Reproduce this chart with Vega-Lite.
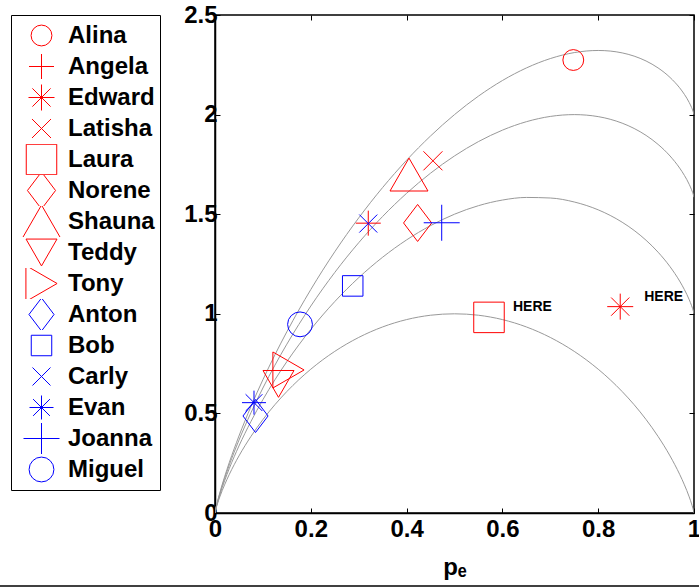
{
  "$schema": "https://vega.github.io/schema/vega-lite/v6.json",
  "width": 479,
  "height": 498,
  "autosize": {"type": "none"},
  "padding": {"left": 215, "top": 15, "right": 5, "bottom": 75},
  "background": "#ffffff",
  "config": {"view": {"stroke": "#000000", "strokeWidth": 1.5}, "font": "Liberation Sans"},
  "datasets": {
    "curves": [
      {"p": 0, "c2": 0, "c3": 0, "c4": 0, "c5": 0},
      {"p": 0.001, "c2": 0.0114, "c3": 0.0124, "c4": 0.013, "c5": 0.0134},
      {"p": 0.005, "c2": 0.0454, "c3": 0.0504, "c4": 0.0533, "c5": 0.0554},
      {"p": 0.01, "c2": 0.0808, "c3": 0.0908, "c4": 0.0966, "c5": 0.1008},
      {"p": 0.02, "c2": 0.1414, "c3": 0.1614, "c4": 0.1731, "c5": 0.1814},
      {"p": 0.025, "c2": 0.1687, "c3": 0.1937, "c4": 0.2083, "c5": 0.2187},
      {"p": 0.03, "c2": 0.1944, "c3": 0.2244, "c4": 0.2419, "c5": 0.2544},
      {"p": 0.05, "c2": 0.2864, "c3": 0.3364, "c4": 0.3656, "c5": 0.3864},
      {"p": 0.075, "c2": 0.3843, "c3": 0.4593, "c4": 0.5032, "c5": 0.5343},
      {"p": 0.1, "c2": 0.469, "c3": 0.569, "c4": 0.6275, "c5": 0.669},
      {"p": 0.125, "c2": 0.5436, "c3": 0.6686, "c4": 0.7417, "c5": 0.7936},
      {"p": 0.15, "c2": 0.6098, "c3": 0.7598, "c4": 0.8476, "c5": 0.9098},
      {"p": 0.175, "c2": 0.669, "c3": 0.844, "c4": 0.9464, "c5": 1.019},
      {"p": 0.2, "c2": 0.7219, "c3": 0.9219, "c4": 1.0389, "c5": 1.1219},
      {"p": 0.25, "c2": 0.8113, "c3": 1.0613, "c4": 1.2075, "c5": 1.3113},
      {"p": 0.3, "c2": 0.8813, "c3": 1.1813, "c4": 1.3568, "c5": 1.4813},
      {"p": 0.35, "c2": 0.9341, "c3": 1.2841, "c4": 1.4888, "c5": 1.6341},
      {"p": 0.4, "c2": 0.971, "c3": 1.371, "c4": 1.6049, "c5": 1.771},
      {"p": 0.45, "c2": 0.9928, "c3": 1.4428, "c4": 1.706, "c5": 1.8928},
      {"p": 0.5, "c2": 1, "c3": 1.5, "c4": 1.7925, "c5": 2},
      {"p": 0.55, "c2": 0.9928, "c3": 1.5428, "c4": 1.8645, "c5": 2.0928},
      {"p": 0.6, "c2": 0.971, "c3": 1.571, "c4": 1.9219, "c5": 2.171},
      {"p": 0.65, "c2": 0.9341, "c3": 1.5841, "c4": 1.9643, "c5": 2.2341},
      {"p": 0.7, "c2": 0.8813, "c3": 1.5813, "c4": 1.9908, "c5": 2.2813},
      {"p": 0.75, "c2": 0.8113, "c3": 1.5613, "c4": 2.0, "c5": 2.3113},
      {"p": 0.8, "c2": 0.7219, "c3": 1.5219, "c4": 1.9899, "c5": 2.3219},
      {"p": 0.825, "c2": 0.669, "c3": 1.494, "c4": 1.9766, "c5": 2.319},
      {"p": 0.85, "c2": 0.6098, "c3": 1.4598, "c4": 1.9571, "c5": 2.3098},
      {"p": 0.875, "c2": 0.5436, "c3": 1.4186, "c4": 1.9304, "c5": 2.2936},
      {"p": 0.9, "c2": 0.469, "c3": 1.369, "c4": 1.8955, "c5": 2.269},
      {"p": 0.925, "c2": 0.3843, "c3": 1.3093, "c4": 1.8504, "c5": 2.2343},
      {"p": 0.95, "c2": 0.2864, "c3": 1.2364, "c4": 1.7921, "c5": 2.1864},
      {"p": 0.97, "c2": 0.1944, "c3": 1.1644, "c4": 1.7318, "c5": 2.1344},
      {"p": 0.975, "c2": 0.1687, "c3": 1.1437, "c4": 1.714, "c5": 2.1187},
      {"p": 0.98, "c2": 0.1414, "c3": 1.1214, "c4": 1.6947, "c5": 2.1014},
      {"p": 0.99, "c2": 0.0808, "c3": 1.0708, "c4": 1.6499, "c5": 2.0608},
      {"p": 0.995, "c2": 0.0454, "c3": 1.0404, "c4": 1.6225, "c5": 2.0354},
      {"p": 0.999, "c2": 0.0114, "c3": 1.0104, "c4": 1.5948, "c5": 2.0094},
      {"p": 1, "c2": 0, "c3": 1, "c4": 1.585, "c5": 2}
    ],
    "people": [
      {"name": "Alina", "pe": 0.748, "h": 2.274},
      {"name": "Angela", "pe": 0.32, "h": 1.455},
      {"name": "Edward", "pe": 0.846, "h": 1.036, "note": "HERE"},
      {"name": "Latisha", "pe": 0.455, "h": 1.768},
      {"name": "Laura", "pe": 0.572, "h": 0.982, "note": "HERE"},
      {"name": "Norene", "pe": 0.423, "h": 1.456},
      {"name": "Shauna", "pe": 0.405, "h": 1.699},
      {"name": "Teddy", "pe": 0.1326, "h": 0.648},
      {"name": "Tony", "pe": 0.1534, "h": 0.718},
      {"name": "Anton", "pe": 0.0846, "h": 0.487},
      {"name": "Bob", "pe": 0.2875, "h": 1.14},
      {"name": "Carly", "pe": 0.32, "h": 1.453},
      {"name": "Evan", "pe": 0.0814, "h": 0.554},
      {"name": "Joanna", "pe": 0.4733, "h": 1.457},
      {"name": "Miguel", "pe": 0.1775, "h": 0.947}
    ]
  },
  "layer": [
    {
      "data": {"name": "curves"},
      "transform": [{"fold": ["c2", "c3", "c4", "c5"], "as": ["k", "v"]}],
      "mark": {"type": "line", "color": "#999999", "strokeWidth": 1, "interpolate": "monotone", "clip": true},
      "encoding": {
        "x": {"field": "p", "type": "quantitative", "scale": {"domain": [0, 1], "nice": false},
          "axis": {"orient": "bottom", "values": [0, 0.2, 0.4, 0.6, 0.8, 1], "format": "~g", "title": "pₑ",
            "labelFont": "Liberation Sans", "labelFontSize": 24, "labelFontWeight": "bold", "labelColor": "#000000",
            "labelFlush": false, "labelPadding": 9,
            "titleFont": "Liberation Sans", "titleFontSize": 24, "titleFontWeight": "bold", "titleColor": "#000000", "titlePadding": 14,
            "tickSize": -5, "tickColor": "#000000", "tickWidth": 1, "domainColor": "#000000", "domainWidth": 1.5, "grid": false}},
        "y": {"field": "v", "type": "quantitative", "scale": {"domain": [0, 2.5], "nice": false},
          "axis": {"orient": "left", "values": [0, 0.5, 1, 1.5, 2, 2.5], "format": "~g", "title": null,
            "labelFont": "Liberation Sans", "labelFontSize": 24, "labelFontWeight": "bold", "labelColor": "#000000",
            "labelFlush": false, "labelPadding": 3,
            "tickSize": -5, "tickColor": "#000000", "tickWidth": 1, "domainColor": "#000000", "domainWidth": 1.5, "grid": false}},
        "detail": {"field": "k", "type": "nominal"}
      }
    },
    {
      "data": {"name": "people"},
      "mark": {"type": "point", "filled": false, "fill": "transparent", "strokeWidth": 1, "opacity": 1},
      "encoding": {
        "x": {"field": "pe", "type": "quantitative", "scale": {"domain": [0, 1], "nice": false},
          "axis": {"orient": "top", "values": [0, 0.2, 0.4, 0.6, 0.8, 1], "labels": false, "domain": false, "title": null,
            "tickSize": -5, "tickColor": "#000000", "tickWidth": 1, "grid": false}},
        "y": {"field": "h", "type": "quantitative", "scale": {"domain": [0, 2.5], "nice": false},
          "axis": {"orient": "right", "values": [0, 0.5, 1, 1.5, 2, 2.5], "labels": false, "domain": false, "title": null,
            "tickSize": -5, "tickColor": "#000000", "tickWidth": 1, "grid": false}},
        "stroke": {"field": "name", "type": "nominal",
          "scale": {"domain": ["Alina", "Angela", "Edward", "Latisha", "Laura", "Norene", "Shauna", "Teddy", "Tony", "Anton", "Bob", "Carly", "Evan", "Joanna", "Miguel"],
            "range": ["#ff0000", "#ff0000", "#ff0000", "#ff0000", "#ff0000", "#ff0000", "#ff0000", "#ff0000", "#ff0000", "#0000ff", "#0000ff", "#0000ff", "#0000ff", "#0000ff", "#0000ff"]},
          "legend": {"title": null, "orient": "none", "legendX": -204, "legendY": 0,
            "labelFont": "Liberation Sans", "labelFontSize": 24, "labelFontWeight": "bold", "labelColor": "#000000", "labelLimit": 300,
            "strokeColor": "#000000", "fillColor": "#ffffff", "padding": 5, "rowPadding": 0, "clipHeight": 31,
            "symbolOffset": 6, "labelOffset": 7, "symbolStrokeWidth": 1, "symbolOpacity": 1, "symbolFillColor": "transparent",
            "encode": {"entries": {"update": {"clip": {"value": false}}}}}},
        "shape": {"field": "name", "type": "nominal",
          "scale": {"domain": ["Alina", "Angela", "Edward", "Latisha", "Laura", "Norene", "Shauna", "Teddy", "Tony", "Anton", "Bob", "Carly", "Evan", "Joanna", "Miguel"],
            "range": ["circle", "M-1,0L1,0M0,-1L0,1", "M-1,0L1,0M0,-1L0,1M-0.7,-0.7L0.7,0.7M-0.7,0.7L0.7,-0.7", "M-0.7,-0.7L0.7,0.7M-0.7,0.7L0.7,-0.7", "square", "M0,-1L0.76,0L0,1L-0.76,0Z", "triangle-up", "triangle-down", "triangle-right", "M0,-1L0.76,0L0,1L-0.76,0Z", "square", "M-0.7,-0.7L0.7,0.7M-0.7,0.7L0.7,-0.7", "M-1,0L1,0M0,-1L0,1M-0.7,-0.7L0.7,0.7M-0.7,0.7L0.7,-0.7", "M-1,0L1,0M0,-1L0,1", "circle"]},
          "legend": {"title": null, "orient": "none", "legendX": -204, "legendY": 0,
            "labelFont": "Liberation Sans", "labelFontSize": 24, "labelFontWeight": "bold", "labelColor": "#000000", "labelLimit": 300,
            "strokeColor": "#000000", "fillColor": "#ffffff", "padding": 5, "rowPadding": 0, "clipHeight": 31,
            "symbolOffset": 6, "labelOffset": 7, "symbolStrokeWidth": 1, "symbolOpacity": 1, "symbolFillColor": "transparent",
            "encode": {"entries": {"update": {"clip": {"value": false}}}}}},
        "size": {"field": "name", "type": "nominal",
          "scale": {"type": "ordinal", "domain": ["Alina", "Angela", "Edward", "Latisha", "Laura", "Norene", "Shauna", "Teddy", "Tony", "Anton", "Bob", "Carly", "Evan", "Joanna", "Miguel"],
            "range": [434, 625, 676, 737, 930, 1369, 1444, 961, 1296, 1089, 420, 661, 576, 1296, 616]},
          "legend": {"title": null, "orient": "none", "legendX": -204, "legendY": 0,
            "labelFont": "Liberation Sans", "labelFontSize": 24, "labelFontWeight": "bold", "labelColor": "#000000", "labelLimit": 300,
            "strokeColor": "#000000", "fillColor": "#ffffff", "padding": 5, "rowPadding": 0, "clipHeight": 31,
            "symbolOffset": 6, "labelOffset": 7, "symbolStrokeWidth": 1, "symbolOpacity": 1, "symbolFillColor": "transparent",
            "encode": {"entries": {"update": {"clip": {"value": false}}}}}}
      }
    },
    {
      "data": {"name": "people"},
      "transform": [{"filter": "datum.note"}],
      "mark": {"type": "text", "align": "left", "baseline": "middle", "dx": 24, "dy": -10, "font": "Liberation Sans", "fontSize": 14, "fontWeight": "bold", "color": "#000000"},
      "encoding": {
        "x": {"field": "pe", "type": "quantitative", "scale": {"domain": [0, 1], "nice": false}, "axis": null},
        "y": {"field": "h", "type": "quantitative", "scale": {"domain": [0, 2.5], "nice": false}, "axis": null},
        "text": {"field": "note"}
      }
    },
    {
      "data": {"values": [{}]},
      "mark": {"type": "rule", "color": "#000000", "strokeWidth": 1.5},
      "encoding": {
        "x": {"datum": -0.449, "type": "quantitative", "scale": {"domain": [0, 1], "nice": false}, "axis": null},
        "x2": {"datum": 1.0104},
        "y": {"datum": -0.366, "type": "quantitative", "scale": {"domain": [0, 2.5], "nice": false}, "axis": null}
      }
    }
  ],
  "resolve": {"axis": {"x": "independent", "y": "independent"}}
}
